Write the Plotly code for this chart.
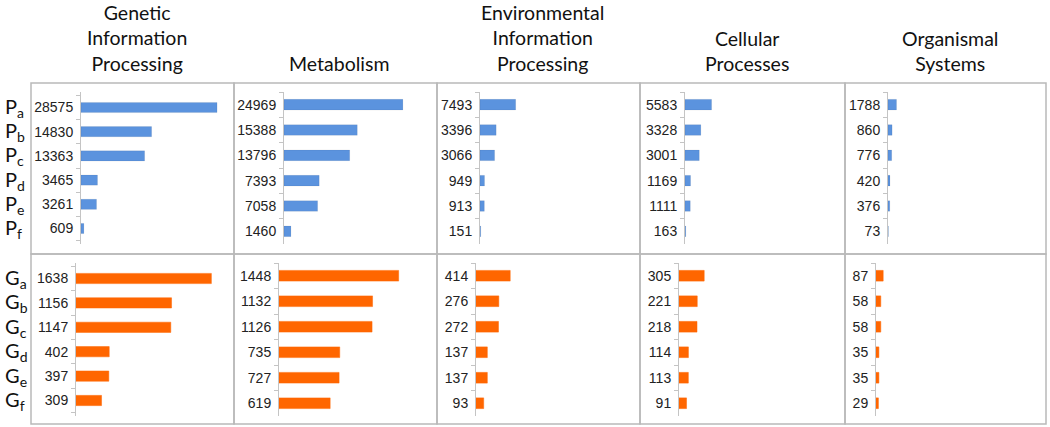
import plotly.graph_objects as go

# ---------------- data ----------------
categories = ["a", "b", "c", "d", "e", "f"]
columns = ["Genetic<br>Information<br>Processing", "Metabolism",
           "Environmental<br>Information<br>Processing", "Cellular<br>Processes",
           "Organismal<br>Systems"]

p_genetic = [28575, 14830, 13363, 3465, 3261, 609]
p_metabolism = [24969, 15388, 13796, 7393, 7058, 1460]
p_environmental = [7493, 3396, 3066, 949, 913, 151]
p_cellular = [5583, 3328, 3001, 1169, 1111, 163]
p_organismal = [1788, 860, 776, 420, 376, 73]

g_genetic = [1638, 1156, 1147, 402, 397, 309]
g_metabolism = [1448, 1132, 1126, 735, 727, 619]
g_environmental = [414, 276, 272, 137, 137, 93]
g_cellular = [305, 221, 218, 114, 113, 91]
g_organismal = [87, 58, 58, 35, 35, 29]

row_prefixes = ["P", "G"]
rows = [
    [p_genetic, p_metabolism, p_environmental, p_cellular, p_organismal],
    [g_genetic, g_metabolism, g_environmental, g_cellular, g_organismal],
]

# ---------------- layout geometry (pixels) ----------------
W, H = 1050, 427
panel_x = [31, 234, 437, 640, 845, 1046]
panel_y = [83, 254, 424]
axis_x = [[81, 284, 480, 685, 888], [76, 279, 476, 679, 876]]
plot_y = [(92, 244), (263, 416)]
units_per_px = [210.0, 12.1]
span_px = 150
colors = ["#5b93de", "#ff6600"]

def px_x(v):
    return v / W

def px_y(v):
    return 1 - v / H

fig = go.Figure()
layout_axes = {}
n = 0
for r in range(2):
    for c in range(5):
        n += 1
        xa = "x" if n == 1 else f"x{n}"
        ya = "y" if n == 1 else f"y{n}"
        vals = rows[r][c]
        fig.add_trace(go.Bar(
            x=vals, y=categories, orientation="h",
            xaxis=xa, yaxis=ya, width=0.42,
            marker=dict(color=colors[r],
                        line=dict(color="rgba(0,0,0,0.12)" if r == 0 else colors[r], width=0.5)),
            showlegend=False, hoverinfo="x",
        ))
        x0 = axis_x[r][c]
        layout_axes["xaxis" if n == 1 else f"xaxis{n}"] = dict(
            domain=[px_x(x0), px_x(x0 + span_px)],
            range=[0, span_px * units_per_px[r]],
            visible=False, anchor=ya, fixedrange=True,
        )
        layout_axes["yaxis" if n == 1 else f"yaxis{n}"] = dict(
            domain=[px_y(plot_y[r][1]), px_y(plot_y[r][0])],
            type="category", categoryorder="array", categoryarray=categories,
            autorange="reversed", anchor=xa,
            tickvals=categories, ticktext=[str(v) for v in vals],
            showline=True, linecolor="#c4c4c4", linewidth=1,
            ticks="outside", ticklen=4, tickcolor="#c4c4c4", tickwidth=1,
            tickson="boundaries", ticklabelstandoff=4,
            tickfont=dict(family="Liberation Sans, Arial", size=14, color="#222222"),
            showgrid=False, zeroline=False, fixedrange=True,
        )

fig.update_layout(**layout_axes)

shapes = []
for r in range(2):
    for c in range(5):
        shapes.append(dict(
            type="rect", xref="paper", yref="paper",
            x0=px_x(panel_x[c]), x1=px_x(panel_x[c + 1]),
            y0=px_y(panel_y[r + 1]), y1=px_y(panel_y[r]),
            line=dict(color="#b9b9b9", width=1.5), fillcolor="rgba(0,0,0,0)", layer="below",
        ))

annotations = []
for c, title in enumerate(columns):
    cx = (panel_x[c] + panel_x[c + 1]) / 2 + 4
    annotations.append(dict(
        text=title, xref="paper", yref="paper", x=px_x(cx), y=px_y(77),
        xanchor="center", yanchor="bottom", showarrow=False, align="center",
        font=dict(family="Lato, Open Sans", size=19.5, color="#111111"),
    ))

for r in range(2):
    ya = "y" if r == 0 else "y6"
    for cat in categories:
        annotations.append(dict(
            text=f"{row_prefixes[r]}<sub>{cat}</sub>", xref="paper", yref=ya,
            x=px_x(3), y=cat, xanchor="left", yanchor="middle", showarrow=False,
            font=dict(family="Lato, Open Sans", size=20, color="#111111"),
        ))

fig.update_layout(
    width=W, height=H, margin=dict(l=0, r=0, t=0, b=0),
    paper_bgcolor="white", plot_bgcolor="rgba(0,0,0,0)",
    shapes=shapes, annotations=annotations, bargap=0.6,
)

fig.write_html("out.html", config={"displayModeBar": False},
               post_script="document.body.style.margin='0px';document.body.style.padding='0px';")
